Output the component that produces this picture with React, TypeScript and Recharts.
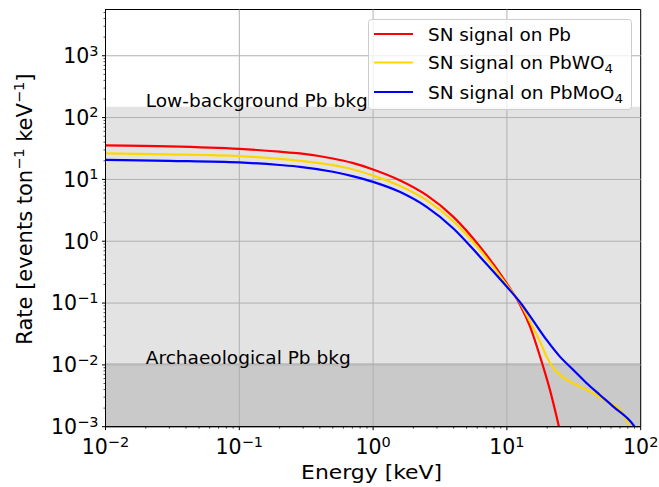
import React from 'react';
import {
  ComposedChart,
  Line,
  XAxis,
  YAxis,
  ReferenceArea,
  ReferenceLine,
  ReferenceDot,
  Legend,
} from 'recharts';

// ---------- data ----------
const energyPb = [0.01, 0.03, 0.1, 0.2, 0.284, 0.5, 0.7, 1, 1.58, 2.51, 3.98, 6.31, 10, 12.5, 14.9, 17.7, 21, 24.5];
const ratePb = [35.5, 34.3, 31.2, 28.1, 26.3, 21.8, 18.5, 14.5, 9.7, 5.56, 2.48, 0.81, 0.206, 0.095, 0.0416, 0.0136, 0.0039, 0.001];

const energyPbWO4 = [0.01, 0.03, 0.1, 0.2, 0.284, 0.5, 0.7, 1, 1.58, 2.51, 3.98, 6.31, 10, 12.5, 14.9, 17.7, 19.8, 22.3, 24.9, 29.6, 35.2, 44.3, 55.8, 70.3, 82];
const ratePbWO4 = [26.3, 25.4, 23.8, 21.5, 20.0, 17.0, 14.6, 11.5, 7.87, 4.61, 2.11, 0.715, 0.195, 0.101, 0.0501, 0.0238, 0.0136, 0.00883, 0.00688, 0.00536, 0.00445, 0.00348, 0.00254, 0.00186, 0.00107];

const energyPbMoO4 = [0.01, 0.03, 0.1, 0.2, 0.284, 0.5, 0.7, 1, 1.58, 2.51, 3.98, 6.31, 10, 12.5, 15.7, 19.8, 24.9, 31.4, 39.5, 49.6, 62.4, 88, 90];
const ratePbMoO4 = [20.7, 19.95, 18.8, 17.1, 16.0, 13.3, 11.3, 9.12, 6.29, 3.59, 1.61, 0.557, 0.183, 0.104, 0.052, 0.0253, 0.0136, 0.00828, 0.00504, 0.00326, 0.00211, 0.00107, 0.001];

const seriesNames = ['SN signal on Pb', 'SN signal on PbWO', 'SN signal on PbMoO'];
const seriesSubscripts = ['', '4', '4'];
const seriesColors = ['#ff0000', '#ffd700', '#0000ff'];
const legendTextWidths = [143, 185, 195];

const lowBkgLevel = 150;
const archBkgLevel = 0.0105;
const bandLabels = ['Low-background Pb bkg', 'Archaeological Pb bkg'];
const bandLabelWidths = [222, 205];
const bandLabelX = 0.02;

const xMajorExps = [-2, -1, 0, 1, 2];
const yMajorExps = [-3, -2, -1, 0, 1, 2, 3];
const xDomain = [0.01, 100];
const yDomain = [0.001, 5600];

const xLabel = 'Energy [keV]';

// ---------- derived ----------
const toRows = (es: number[], vs: number[]) => es.map((e, i) => ({ e, v: vs[i] }));
const seriesData = [
  toRows(energyPb, ratePb),
  toRows(energyPbWO4, ratePbWO4),
  toRows(energyPbMoO4, ratePbMoO4),
];

const buildTicks = (exps: number[], max: number) => {
  const out: number[] = [];
  exps.forEach((p) => {
    const base = Math.pow(10, p);
    out.push(base);
    for (let m = 2; m <= 9; m++) out.push(m * base);
  });
  return out.filter((v) => v <= max * (1 + 1e-9));
};
const xTicks = buildTicks(xMajorExps, xDomain[1]);
const yTicks = buildTicks(yMajorExps, yDomain[1]);
const xMajors = xMajorExps.map((p) => Math.pow(10, p));
const yMajors = yMajorExps.map((p) => Math.pow(10, p));

const FONT = '"DejaVu Sans", sans-serif';
const fmtExp = (p: number) => (p < 0 ? '\u2212' + String(-p) : String(p));
const isMajor = (v: number) => {
  const p = Math.round(Math.log10(v));
  return Math.abs(v - Math.pow(10, p)) < 1e-9 * v;
};

const TICK_FS = 20.5;
const SUP_FS = 14.5;

const XTick = (props: any) => {
  const { x, y, payload } = props;
  const v = payload.value;
  const major = isMajor(v);
  const p = Math.round(Math.log10(v));
  return (
    <g>
      <line x1={x} x2={x} y1={y} y2={y + (major ? 3.5 : 2)} stroke="#000" strokeWidth={major ? 1 : 0.7} />
      {major && (
        <text x={x} y={y + 27.3} textAnchor="middle" fontFamily={FONT} fontSize={TICK_FS} fill="#000">
          10
          <tspan dy={-7.5} fontSize={SUP_FS}>{fmtExp(p)}</tspan>
        </text>
      )}
    </g>
  );
};

const YTick = (props: any) => {
  const { x, y, payload } = props;
  const v = payload.value;
  const major = isMajor(v);
  const p = Math.round(Math.log10(v));
  return (
    <g>
      <line x1={x} x2={x - (major ? 3.5 : 2)} y1={y} y2={y} stroke="#000" strokeWidth={major ? 1 : 0.7} />
      {major && (
        <text x={x - 7} y={y + 7.3} textAnchor="end" fontFamily={FONT} fontSize={TICK_FS} fill="#000">
          10
          <tspan dy={-7.5} fontSize={SUP_FS}>{fmtExp(p)}</tspan>
        </text>
      )}
    </g>
  );
};

const XAxisLabel = (props: any) => {
  const vb = props.viewBox || { x: 105.5, y: 426.7, width: 535, height: 60 };
  return (
    <text
      x={vb.x + vb.width / 2 - 1.5}
      y={vb.y + 52.6}
      textAnchor="middle"
      fontFamily={FONT}
      fontSize={20}
      fill="#000"
      textLength={141}
      lengthAdjust="spacingAndGlyphs"
    >
      {xLabel}
    </text>
  );
};

const YAxisLabel = (props: any) => {
  const vb = props.viewBox || { x: 0, y: 9.5, width: 105.5, height: 417 };
  const cx = vb.x + 32.5;
  const cy = vb.y + vb.height / 2 - 9;
  return (
    <text
      x={cx}
      y={cy}
      transform={`rotate(-90, ${cx}, ${cy})`}
      textAnchor="middle"
      fontFamily={FONT}
      fontSize={21}
      fill="#000"
    >
      Rate [events ton
      <tspan dy={-8} fontSize={14.5}>{'\u22121'}</tspan>
      <tspan dy={8}> keV</tspan>
      <tspan dy={-8} fontSize={14.5}>{'\u22121'}</tspan>
      <tspan dy={8}>]</tspan>
    </text>
  );
};

const BandLabel = (props: any) => {
  const vb = props.viewBox || { x: 0, y: 0 };
  return (
    <text
      x={vb.x}
      y={vb.y + 0.5}
      textAnchor="start"
      fontFamily={FONT}
      fontSize={18}
      fill="#000"
      textLength={props.width}
      lengthAdjust="spacingAndGlyphs"
    >
      {props.text}
    </text>
  );
};

const LegendBox = () => {
  const rowY = [15, 43.5, 73];
  return (
    <svg width={265} height={92} style={{ display: 'block', overflow: 'visible' }}>
      <rect x={0.5} y={0.5} width={263} height={90} rx={3} ry={3} fill="#ffffff" fillOpacity={0.8} stroke="#cccccc" strokeWidth={1} />
      {seriesNames.map((name, i) => (
        <g key={name}>
          <line x1={6} x2={45} y1={rowY[i]} y2={rowY[i]} stroke={seriesColors[i]} strokeWidth={2.2} />
          <text
            x={60}
            y={rowY[i] + 6.8}
            fontFamily={FONT}
            fontSize={18}
            fill="#000"
            textLength={legendTextWidths[i]}
            lengthAdjust="spacingAndGlyphs"
          >
            {name}
            {seriesSubscripts[i] && (
              <tspan dy={4} fontSize={13}>{seriesSubscripts[i]}</tspan>
            )}
          </text>
        </g>
      ))}
    </svg>
  );
};

export default function App() {
  return (
    <div style={{ position: 'absolute', left: 0, top: 0, width: 659, height: 487, background: '#fff' }}>
      <ComposedChart width={659} height={487} margin={{ top: 9.5, right: 18.3, bottom: 0, left: 0 }}>
        <XAxis
          dataKey="e"
          type="number"
          scale="log"
          domain={xDomain}
          ticks={xTicks}
          interval={0}
          allowDataOverflow
          height={60.3}
          tickSize={0}
          tickMargin={0}
          tickLine={false}
          axisLine={{ stroke: '#000', strokeWidth: 1 }}
          tick={<XTick />}
          label={<XAxisLabel />}
        />
        <YAxis
          type="number"
          scale="log"
          domain={yDomain}
          ticks={yTicks}
          interval={0}
          allowDataOverflow
          width={105.5}
          tickSize={0}
          tickMargin={0}
          tickLine={false}
          axisLine={{ stroke: '#000', strokeWidth: 1 }}
          tick={<YTick />}
          label={<YAxisLabel />}
        />
        <ReferenceArea y1={yDomain[0]} y2={lowBkgLevel} fill="#e3e3e3" fillOpacity={1} stroke="none" />
        <ReferenceArea y1={yDomain[0]} y2={archBkgLevel} fill="#c9c9c9" fillOpacity={1} stroke="#c2c2c2" strokeWidth={1} />
        {xMajors.slice(1, -1).map((v) => (
          <ReferenceLine key={'gx' + v} x={v} stroke="#b0b0b0" strokeWidth={1} />
        ))}
        {yMajors.slice(1).map((v) => (
          <ReferenceLine key={'gy' + v} y={v} stroke="#b0b0b0" strokeWidth={1} />
        ))}
        <ReferenceDot x={bandLabelX} y={lowBkgLevel} r={0} fill="none" stroke="none" label={<BandLabel text={bandLabels[0]} width={bandLabelWidths[0]} />} />
        <ReferenceDot x={bandLabelX} y={archBkgLevel} r={0} fill="none" stroke="none" label={<BandLabel text={bandLabels[1]} width={bandLabelWidths[1]} />} />
        {seriesData.map((d, i) => (
          <Line
            key={seriesNames[i]}
            data={d}
            dataKey="v"
            type="monotone"
            stroke={seriesColors[i]}
            strokeWidth={2.2}
            dot={false}
            activeDot={false}
            isAnimationActive={false}
          />
        ))}
        <ReferenceArea x1={xDomain[0]} x2={xDomain[1]} y1={yDomain[0]} y2={yDomain[1]} fill="none" stroke="#000" strokeWidth={1} />
        <Legend
          content={<LegendBox />}
          layout="horizontal"
          verticalAlign="middle"
          align="center"
          wrapperStyle={{ position: 'absolute', left: 368, top: 19, width: 265, height: 92, margin: 0, padding: 0 }}
        />
      </ComposedChart>
    </div>
  );
}
